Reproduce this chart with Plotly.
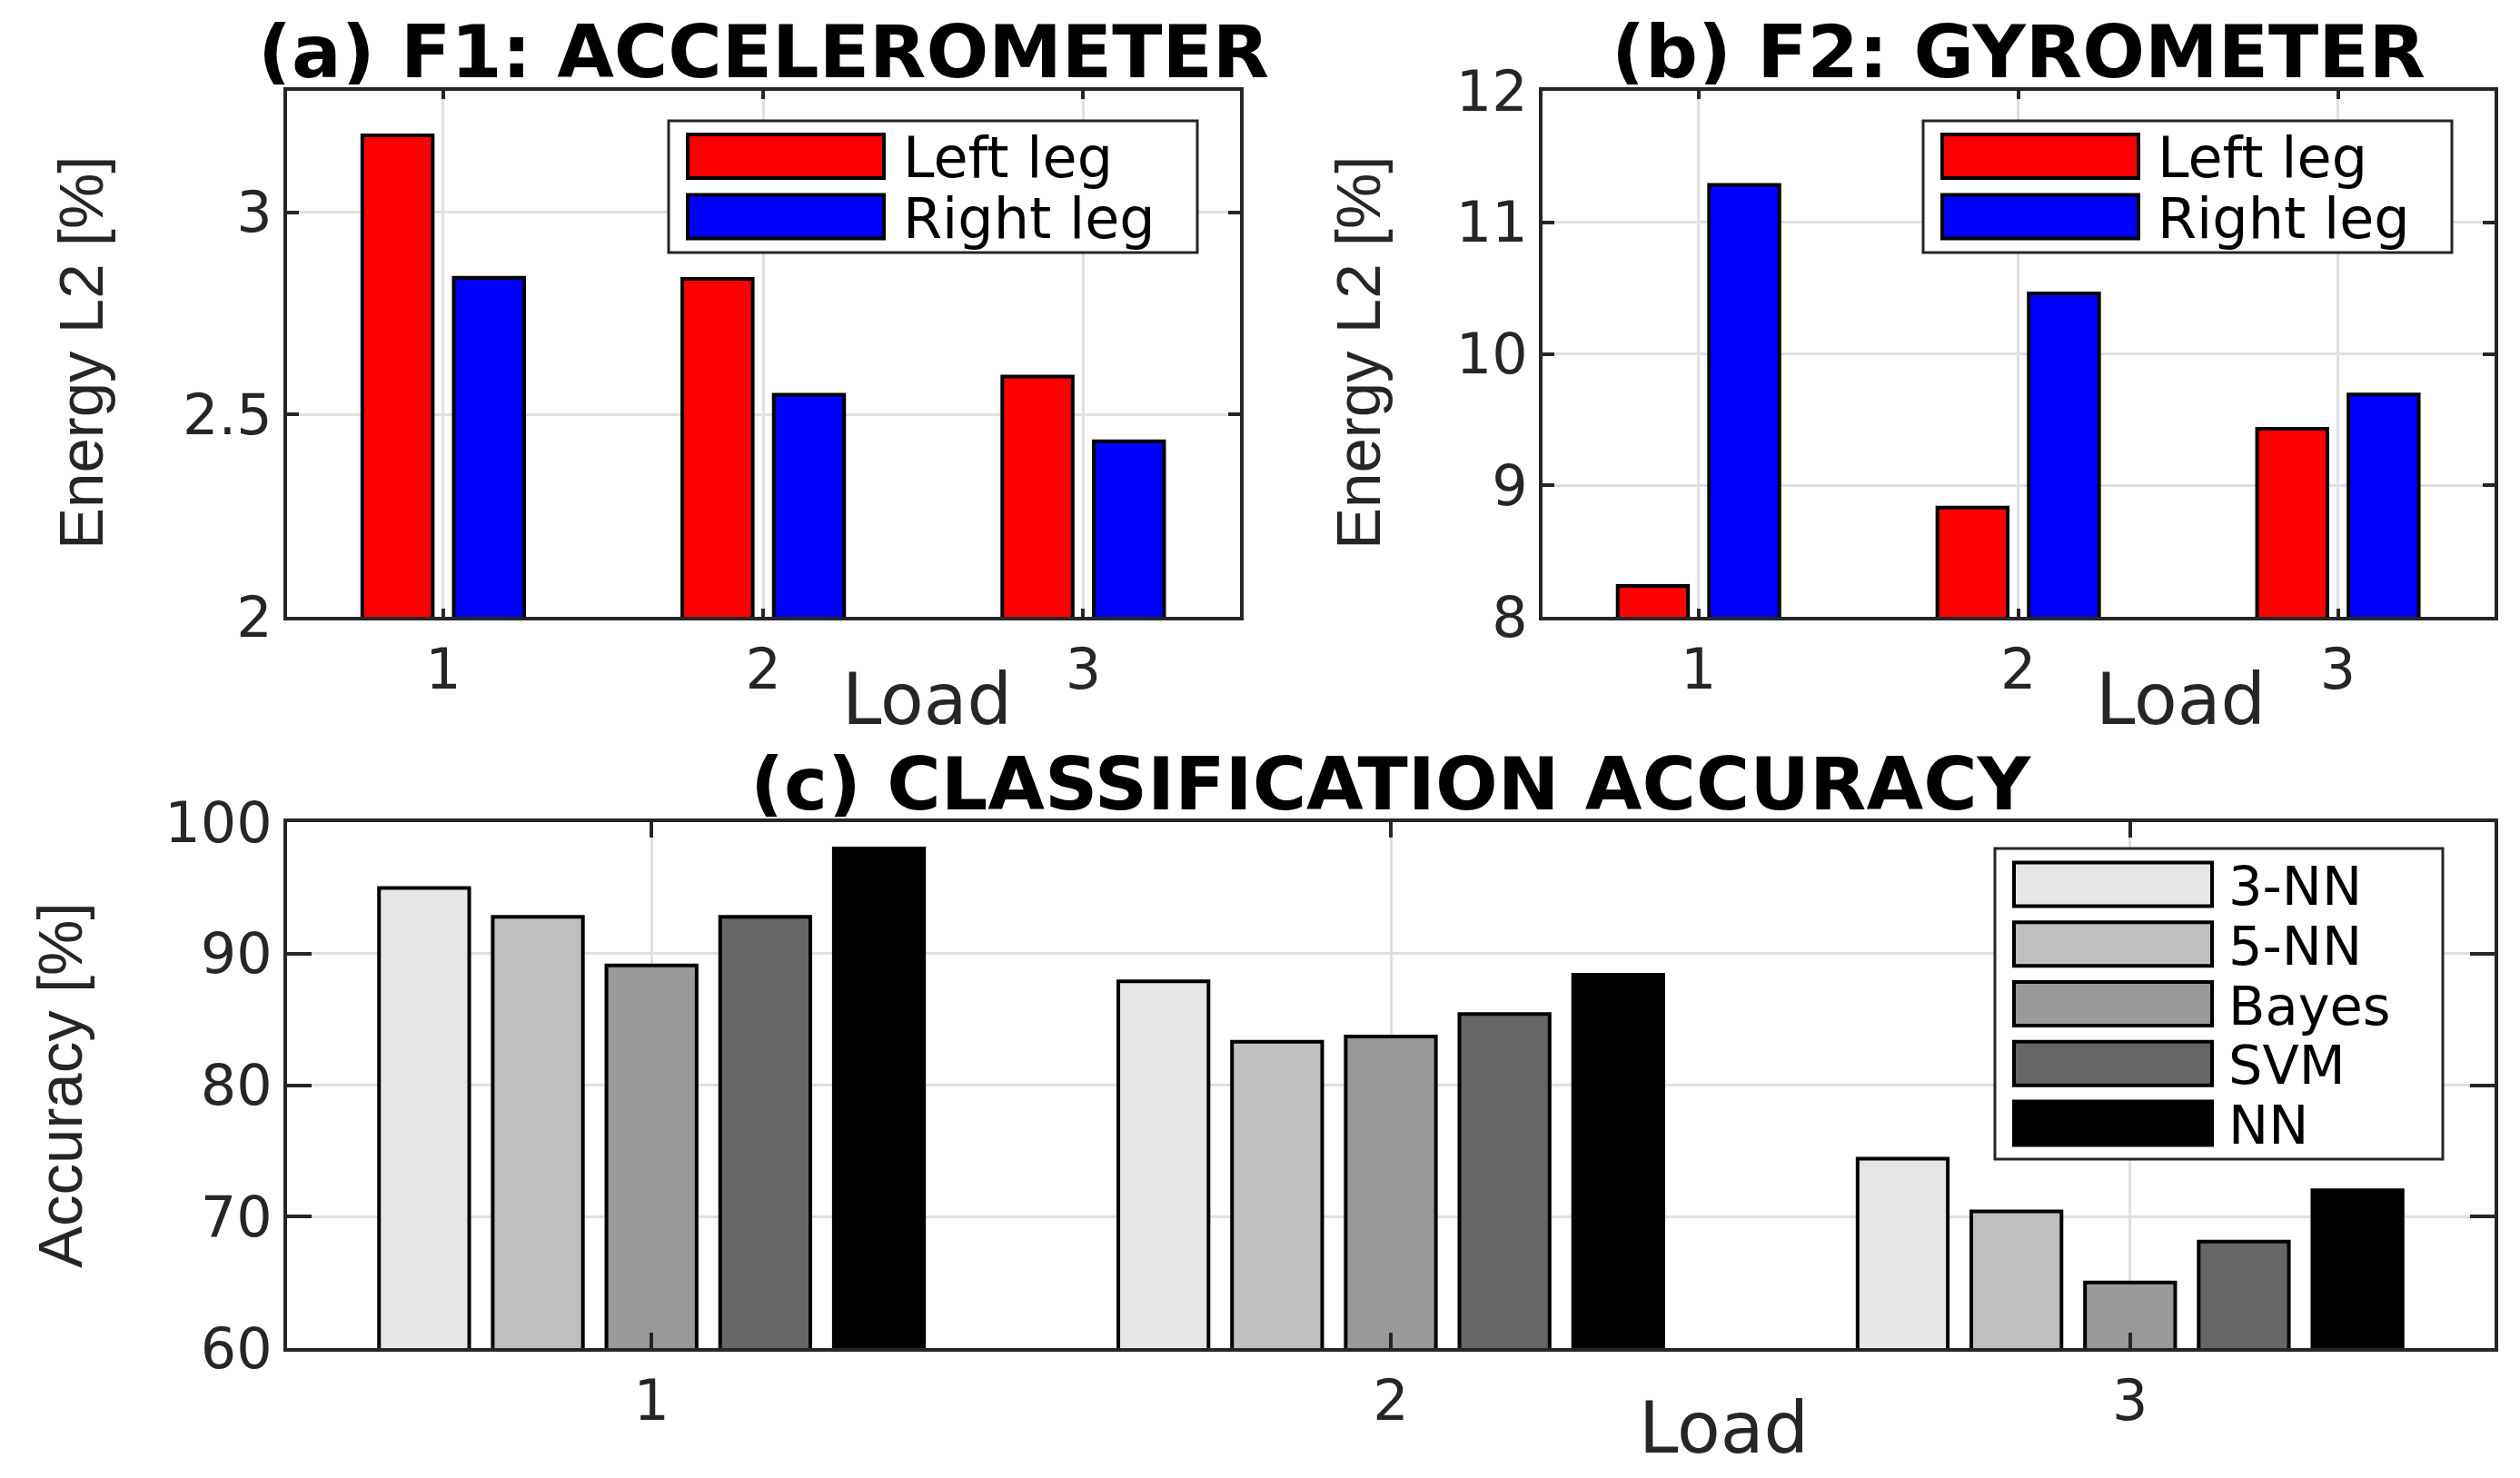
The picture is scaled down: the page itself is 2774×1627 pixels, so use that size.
import plotly.graph_objects as go

# ---------------- data ----------------
loads = [1, 2, 3]
load_ticks = ["1", "2", "3"]

legs = ["Left leg", "Right leg"]
leg_colors = ["#ff0000", "#0000ff"]
accel_left = [3.19, 2.835, 2.594]
accel_right = [2.838, 2.549, 2.434]
gyro_left = [8.235, 8.83, 9.43]
gyro_right = [11.285, 10.46, 9.69]

classifiers = ["3-NN", "5-NN", "Bayes", "SVM", "NN"]
clf_colors = ["#e6e6e6", "#bfbfbf", "#999999", "#666666", "#000000"]
acc_3nn = [95.0, 87.9, 74.4]
acc_5nn = [92.8, 83.3, 70.4]
acc_bayes = [89.1, 83.7, 65.0]
acc_svm = [92.8, 85.4, 68.1]
acc_nn = [98.0, 88.4, 72.0]

yticks_a = [2, 2.5, 3]
yticks_b = [8, 9, 10, 11, 12]
yticks_c = [60, 70, 80, 90, 100]

titles = ["(a) F1: ACCELEROMETER", "(b) F2: GYROMETER", "(c) CLASSIFICATION ACCURACY"]
ylabels = ["Energy L2 [%]", "Energy L2 [%]", "Accuracy [%]"]
xlabel = "Load"

# ---------------- geometry (pixels) ----------------
W, H = 2774, 1627
panels = {  # left, right, top, bottom
    "a": (316, 1365, 100, 679),
    "b": (1698, 2746, 100, 679),
    "c": (316, 2746, 905, 1484),
}

def fx(p):
    return p / W

def fy(p):
    return 1 - p / H

TICKFONT = dict(family="DejaVu Sans", size=62, color="#262626")
DARK = "#262626"

fig = go.Figure()

# ---- panel a & b bars (2 series) ----
w2 = 0.22
centers2 = [-0.1429, 0.1429]
for (xa, ya, series) in [("x", "y", [accel_left, accel_right]), ("x2", "y2", [gyro_left, gyro_right])]:
    for i, vals in enumerate(series):
        fig.add_trace(go.Bar(
            x=loads, y=vals, name=legs[i], xaxis=xa, yaxis=ya,
            width=w2, offset=centers2[i] - w2 / 2,
            marker=dict(color=leg_colors[i], line=dict(color="black", width=4)),
            showlegend=False,
        ))

# ---- panel c bars (5 series) ----
w5 = 0.122
step5 = 0.1538
acc_series = [acc_3nn, acc_5nn, acc_bayes, acc_svm, acc_nn]
for i, vals in enumerate(acc_series):
    c = (i - 2) * step5
    fig.add_trace(go.Bar(
        x=loads, y=vals, name=classifiers[i], xaxis="x3", yaxis="y3",
        width=w5, offset=c - w5 / 2,
        marker=dict(color=clf_colors[i], line=dict(color="black", width=4)),
        showlegend=False,
    ))

def axis_common(ticklen, standoff):
    return dict(
        showline=True, linecolor=DARK, linewidth=4, mirror="ticks",
        ticks="inside", tickcolor=DARK, tickwidth=4, ticklen=ticklen,
        showgrid=True, gridcolor="#dfdfdf", gridwidth=3, zeroline=False,
        tickfont=TICKFONT, ticklabelstandoff=standoff, automargin=False,
    )

layout = dict(
    width=W, height=H, margin=dict(l=0, r=0, t=0, b=0, autoexpand=False),
    paper_bgcolor="white", plot_bgcolor="white",
    barmode="overlay", showlegend=False,
)

for key, xname, yname in [("a", "xaxis", "yaxis"), ("b", "xaxis2", "yaxis2"), ("c", "xaxis3", "yaxis3")]:
    l, r, t, b = panels[key]
    big = key == "c"
    xr = [0.507, 3.493] if big else [0.512, 3.49]
    xa = axis_common(17 if big else 9, 1)
    xa.update(domain=[fx(l), fx(r)], range=xr, tickvals=loads, ticktext=load_ticks,
              anchor=yname.replace("axis", ""))
    ya = axis_common(27 if big else 13, 0)
    if key == "a":
        ya.update(range=[2, 3.3], tickvals=yticks_a, ticktext=["2", "2.5", "3"])
    elif key == "b":
        ya.update(range=[8, 12], tickvals=yticks_b)
    else:
        ya.update(range=[60, 100], tickvals=yticks_c)
    ya.update(domain=[fy(b), fy(t)], anchor=xname.replace("axis", ""))
    layout[xname] = xa
    layout[yname] = ya

fig.update_layout(**layout)

annotations = []
shapes = []

# titles
title_pos = [(840, 57), (2222, 57), (1531, 863)]
for txt, (cx, cy) in zip(titles, title_pos):
    annotations.append(dict(text="<b>%s</b>" % txt, x=fx(cx), y=fy(cy), xref="paper", yref="paper",
                            xanchor="center", yanchor="middle", showarrow=False, height=72,
                            font=dict(family="DejaVu Sans", size=81, color="black")))

# y labels
ylab_pos = [(89, 389), (1495, 389), (66, 1195)]
for txt, (cx, cy) in zip(ylabels, ylab_pos):
    annotations.append(dict(text=txt, x=fx(cx), y=fy(cy), xref="paper", yref="paper",
                            xanchor="center", yanchor="middle", showarrow=False, textangle=-90,
                            font=dict(family="Liberation Sans", size=69, color=DARK)))

# x labels
xlab_pos = [(1020, 770), (2400, 770), (1897, 1572)]
for (cx, cy) in xlab_pos:
    annotations.append(dict(text=xlabel, x=fx(cx), y=fy(cy), xref="paper", yref="paper",
                            xanchor="center", yanchor="middle", showarrow=False, height=66,
                            font=dict(family="DejaVu Sans", size=78, color=DARK)))

# legends (drawn as framed boxes with swatches)
def add_legend(box, names, colors, first_center, pitch, sw_off, sw_w, text_off, fsize):
    x0, x1, y0, y1 = box
    shapes.append(dict(type="rect", xref="paper", yref="paper",
                       x0=fx(x0), x1=fx(x1), y0=fy(y1), y1=fy(y0),
                       line=dict(color=DARK, width=3), fillcolor="white", layer="above"))
    for k, (nm, col) in enumerate(zip(names, colors)):
        cy = first_center + k * pitch
        shapes.append(dict(type="rect", xref="paper", yref="paper",
                           x0=fx(x0 + sw_off), x1=fx(x0 + sw_off + sw_w),
                           y0=fy(cy + 24), y1=fy(cy - 24),
                           line=dict(color="black", width=4), fillcolor=col, layer="above"))
        annotations.append(dict(text=nm, x=fx(x0 + text_off), y=fy(cy + 2), xref="paper", yref="paper",
                                xanchor="left", yanchor="middle", showarrow=False,
                                borderpad=0, borderwidth=0,
                                font=dict(family="DejaVu Sans", size=fsize, color="black")))

for key in ["a", "b"]:
    l, r, t, b = panels[key]
    add_legend((r - 47 - 582, r - 47, t + 33, t + 178), legs, leg_colors,
               t + 72, 66.5, 21, 216, 258, 62)
l, r, t, b = panels["c"]
add_legend((r - 550, r - 57, t + 29, t + 371), classifiers, clf_colors,
           t + 68.5, 65.75, 21, 218, 257, 59)

fig.update_layout(annotations=annotations, shapes=shapes)

fig.write_html("out.html", config={"displayModeBar": False},
               post_script="document.body.style.margin='0';")
